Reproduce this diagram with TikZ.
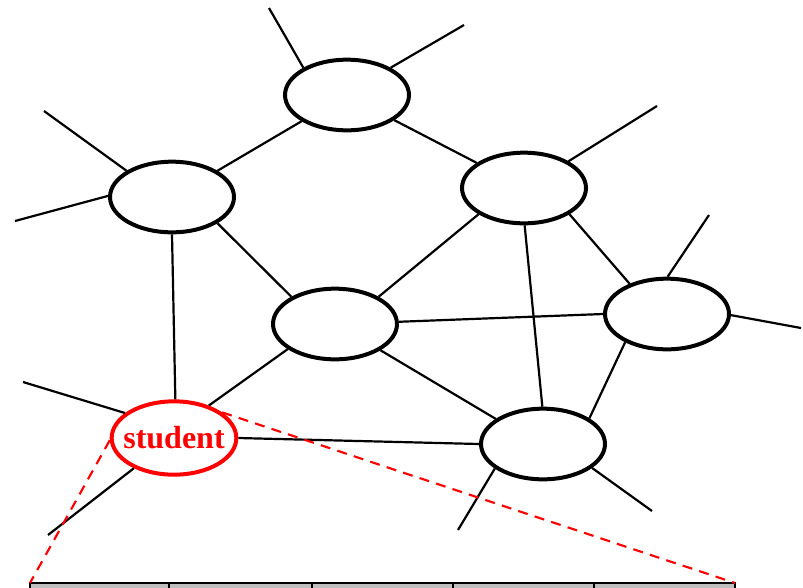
\documentclass[tikz,border=0pt]{standalone}
\usepackage{fontspec}
\setmainfont{Liberation Serif}
\usetikzlibrary{shapes.geometric}
\begin{document}
\begin{tikzpicture}[x=0.75pt,y=-0.75pt,
  nd/.style={ellipse,draw=black,line width=3pt,minimum width=93pt,minimum height=53pt,inner sep=0pt,fill=white},
  stud/.style={nd,draw=red,minimum width=93.5pt,minimum height=55pt,text=red,font=\bfseries\fontsize{24}{26}\selectfont},
  edge/.style={line width=1.65pt,black},
  zoomline/.style={red,line width=1.6pt,dash pattern=on 7.5pt off 5.5pt},
  cell/.style={fill=black!25,draw=black,line width=0.8pt}]
\useasboundingbox (0,0) rectangle (803,587);
\begin{scope}
\clip (0,0) rectangle (803,587);
% table row at the bottom
\foreach \a/\b in {30/169,169/312,312/453,453/594,594/735}
  \draw[cell] (\a,583) rectangle (\b,600);
\end{scope}
% coordinates of free ends
\coordinate (t1) at (269,8);
\coordinate (t2) at (464,25);
\coordinate (l1) at (44,111);
\coordinate (l2) at (15,221);
\coordinate (r1) at (657,106);
\coordinate (q1) at (709,215);
\coordinate (q2) at (801,328);
\coordinate (s1) at (23,382);
\coordinate (s2) at (48,535);
\coordinate (b1) at (458,530);
\coordinate (b2) at (652,511);
\coordinate (z1) at (30,583);
\coordinate (z2) at (735,583);
% nodes
\node[nd] (top) at (347,95) {};
\node[nd] (left) at (172,197) {};
\node[nd] (rtop) at (524,188) {};
\node[nd] (mid) at (335,324) {};
\node[nd] (right) at (667,314) {};
\node[nd] (brt) at (543,444) {};
\node[stud] (st) at (174,438) {\makebox[0pt]{student}};
% edges
\draw[edge] (top.210) -- (left.30);
\draw[edge] (top.332) -- (rtop.152);
\draw[edge] (left.330) -- (mid.148);
\draw[edge] (left.270) -- (st.88);
\draw[edge] (rtop.210) -- (mid.32);
\draw[edge] (rtop.330) -- (right.141);
\draw[edge] (rtop.271) -- (brt.91);
\draw[edge] (mid.2) -- (right.180);
\draw[edge] (mid.330) -- (brt.152);
\draw[edge] (mid.208) -- (st.43);
\draw[edge] (right.214) -- (brt.29);
\draw[edge] (st.0) -- (brt.180);
% stubs
\draw[edge] (top.148) -- (t1);
\draw[edge] (top.32) -- (t2);
\draw[edge] (left.150) -- (l1);
\draw[edge] (left.179) -- (l2);
\draw[edge] (rtop.31) -- (r1);
\draw[edge] (right.89) -- (q1);
\draw[edge] (right.359) -- (q2);
\draw[edge] (st.153) -- (s1);
\draw[edge] (st.217) -- (s2);
\draw[edge] (brt.207) -- (b1);
\draw[edge] (brt.334) -- (b2);
% zoom lines
\draw[zoomline] (st.182) -- (z1);
\draw[zoomline] (st.28) -- (z2);
\end{tikzpicture}
\end{document}
